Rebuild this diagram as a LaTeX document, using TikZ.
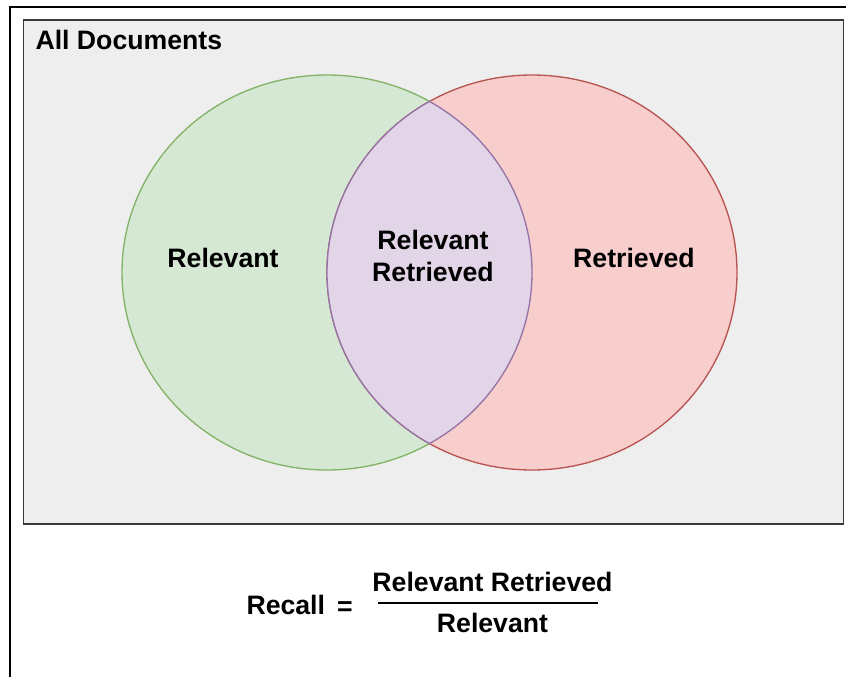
\documentclass[tikz,border=0pt]{standalone}
\usepackage{fontspec}
\setmainfont{Liberation Sans}
\definecolor{mygreyfill}{HTML}{EEEEEE}
\definecolor{mygreyline}{HTML}{36393D}
\definecolor{mygreenfill}{HTML}{D5E8D4}
\definecolor{mygreenline}{HTML}{82B366}
\definecolor{myredfill}{HTML}{F8CECC}
\definecolor{myredline}{HTML}{B85450}
\definecolor{mypurplefill}{HTML}{E1D5E7}
\definecolor{mypurpleline}{HTML}{9673A6}
\tikzset{every picture/.style={line width=0.75pt}}

\begin{document}
\begin{tikzpicture}[x=0.75pt,y=0.75pt,yscale=-1,xscale=1,
  lbl/.style={font=\fontsize{20}{24.2}\selectfont\bfseries, inner sep=0pt}]
\useasboundingbox (0,0) rectangle (846,677); %diagram is 846 wide and 677 high
%Shape: Rectangle [id:dp0381245907113] 
\begin{scope}
\clip (0,0) rectangle (846,677);
\draw [color=black  ,draw opacity=1, line width=1.5pt ]   (10,7) rectangle (860,690) ;
\end{scope}
%Shape: Rectangle [id:dp7716025193380214] 
\draw [color=mygreyline  ,draw opacity=1, fill=mygreyfill, line width=1pt ]   (23.3,20) rectangle (843.3,524) ;
%Shape: Ellipse [id:dp4410537296158221] 
\draw [color=mygreenline  ,draw opacity=1, fill=mygreenfill, line width=1pt ]   (327,272.5) ellipse [x radius=205, y radius=197.5] ;
%Shape: Ellipse [id:dp2285014463921907] 
\draw [color=myredline  ,draw opacity=1, fill=myredfill, line width=1pt ]   (532,272.5) ellipse [x radius=205, y radius=197.5] ;
%Shape: Lens [id:dp9025613447701583] 
\begin{scope}
\clip (327,272.5) ellipse [x radius=205, y radius=197.5];
\draw [color=mypurpleline  ,draw opacity=1, fill=mypurplefill, line width=1pt ]   (532,272.5) ellipse [x radius=205, y radius=197.5] ;
\end{scope}
\begin{scope}
\clip (532,272.5) ellipse [x radius=205, y radius=197.5];
\draw [color=mypurpleline  ,draw opacity=1, line width=1pt ]   (327,272.5) ellipse [x radius=205, y radius=197.5] ;
\end{scope}
% Text Node
\node [lbl, anchor=base west] (alldocs) at (35,50) {All Documents};
% Text Node
\node [lbl, anchor=base] (relevant) at (223,268) {Relevant};
% Text Node
\node [lbl, anchor=base] (retrieved) at (634,268) {Retrieved};
% Text Node
\node [lbl, align=center] (relret) at (433,256) {Relevant\\Retrieved};
% Text Node
\node [lbl, anchor=base west] (recall) at (246,614.3) {Recall};
% Text Node
\node [lbl, anchor=base] (equals) at (345,615.5) {=};
% Text Node
\node [lbl, anchor=base] (numer) at (492.5,591.7) {Relevant Retrieved};
% Text Node
\node [lbl, anchor=base] (denom) at (492.5,632.7) {Relevant};
%Straight Lines [id:da6629018352017406] 
\coordinate (barleft) at (378,602.7);
\coordinate (barright) at (598,602.7);
\draw [color=black  ,draw opacity=1, line width=1.8pt ]   (barleft) -- (barright) ;
\end{tikzpicture}
\end{document}
